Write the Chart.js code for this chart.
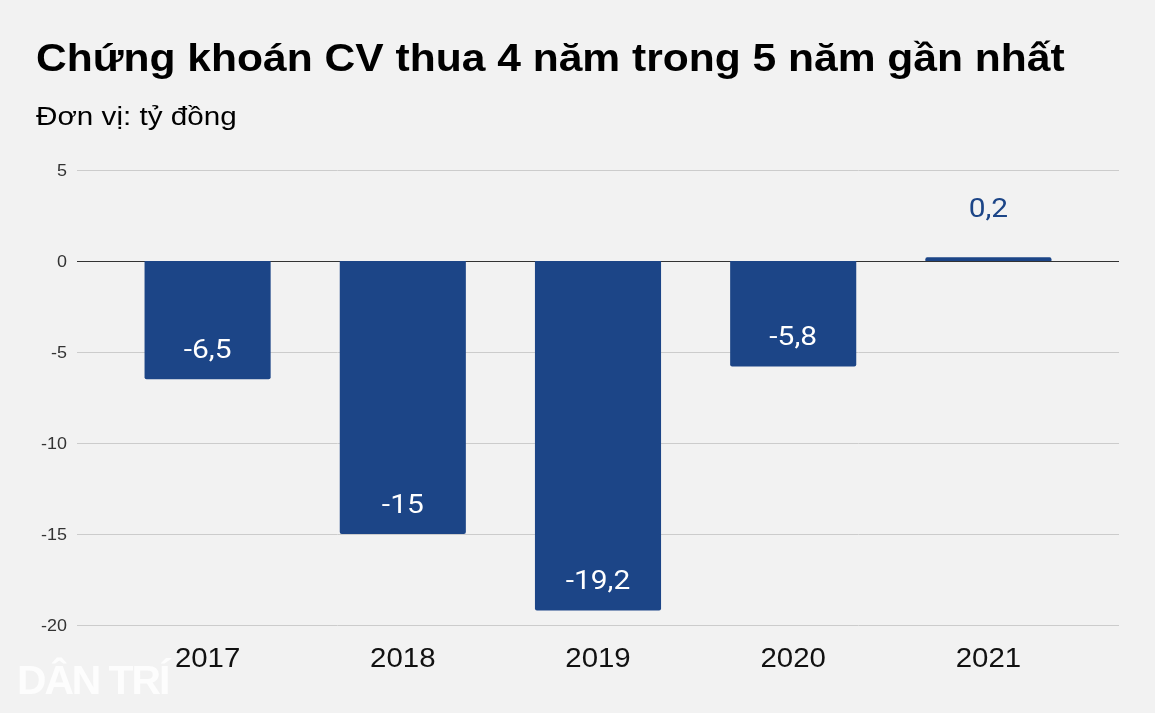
<!DOCTYPE html>
<html>
<head>
<meta charset="utf-8">
<script src="https://cdn.jsdelivr.net/npm/chart.js@4"></script>
<style>
  html, body { margin: 0; padding: 0; background: #f2f2f2; }
  #wrap { position: relative; width: 1155px; height: 713px; overflow: hidden; }
  #title { position: absolute; left: 36px; top: 37px; font: bold 38px "Liberation Sans", Arial, sans-serif; color: #000; white-space: nowrap; transform: scaleX(1.12); transform-origin: left; }
  #sub { position: absolute; left: 36px; top: 101px; font: 26px "Liberation Sans", Arial, sans-serif; color: #000; white-space: nowrap; transform: scaleX(1.14); transform-origin: left; }
  #logo { position: absolute; left: 17px; top: 658px; font: bold 40px "Liberation Sans", Arial, sans-serif; color: #fdfdfd; letter-spacing: -2px; transform: scaleX(1.02); transform-origin: left; }
  canvas { position: absolute; left: 0; top: 0; }
</style>
</head>
<body>
<div id="wrap">
  <canvas id="c" width="1155" height="713"></canvas>
  <div id="title">Chứng khoán CV thua 4 năm trong 5 năm gần nhất</div>
  <div id="sub">Đơn vị: tỷ đồng</div>
  <div id="logo">DÂN TRÍ</div>
</div>
<script>
// dữ liệu
const years = ['2017', '2018', '2019', '2020', '2021'];
const profit = [-6.5, -15, -19.2, -5.8, 0.2];
const yTicks = [5, 0, -5, -10, -15, -20];

const barColor = '#1c4587';

// chữ hơi giãn ngang như ảnh gốc
function wideText(ctx, txt, x, y, sx) {
  ctx.save();
  ctx.translate(x, y);
  ctx.scale(sx, 1);
  ctx.fillText(txt, 0, 0);
  ctx.restore();
}

// lưới ngang + nhãn trục
const axisPlugin = {
  id: 'axisDraw',
  beforeDatasetsDraw(chart) {
    const ctx = chart.ctx;
    const y = chart.scales.y;
    const x = chart.scales.x;
    ctx.save();
    yTicks.forEach(v => {
      const py = Math.round(y.getPixelForValue(v)) + 0.5;
      ctx.beginPath();
      ctx.moveTo(77, py);
      ctx.lineTo(1119, py);
      ctx.lineWidth = v === 0 ? 1.2 : 1;
      ctx.strokeStyle = v === 0 ? '#333333' : '#cccccc';
      ctx.stroke();
      ctx.fillStyle = '#333';
      ctx.font = '16px "Liberation Sans", Arial, sans-serif';
      ctx.textAlign = 'right';
      ctx.textBaseline = 'middle';
      wideText(ctx, String(v), 67, py + 1, 1.12);
    });
    ctx.fillStyle = '#111';
    ctx.font = '28px "Liberation Sans", Arial, sans-serif';
    ctx.textAlign = 'center';
    ctx.textBaseline = 'middle';
    years.forEach((yr, i) => {
      wideText(ctx, yr, x.getPixelForValue(i), 659, 1.05);
    });
    ctx.restore();
  }
};

// nhãn giá trị trên cột
const labelPlugin = {
  id: 'valueLabels',
  afterDatasetsDraw(chart) {
    const ctx = chart.ctx;
    const meta = chart.getDatasetMeta(0);
    ctx.save();
    ctx.font = '26px Roboto, "Liberation Sans", sans-serif';
    ctx.textAlign = 'center';
    ctx.textBaseline = 'middle';
    meta.data.forEach((bar, i) => {
      const v = profit[i];
      const txt = String(v).replace('.', ',');
      if (v < 0) {
        ctx.fillStyle = '#ffffff';
        wideText(ctx, txt, bar.x, bar.y - 28, 1.15);
      } else {
        ctx.fillStyle = barColor;
        wideText(ctx, txt, bar.x, bar.y - 47, 1.15);
      }
    });
    ctx.restore();
  }
};

new Chart(document.getElementById('c'), {
  type: 'bar',
  data: {
    labels: years,
    datasets: [{
      data: profit,
      backgroundColor: barColor,
      borderRadius: 2,
      borderSkipped: 'start',
      barPercentage: 0.646,
      categoryPercentage: 1
    }]
  },
  options: {
    responsive: false,
    animation: false,
    layout: { padding: { top: 170, right: 69, left: 0, bottom: 0 } },
    plugins: { legend: { display: false }, tooltip: { enabled: false } },
    scales: {
      x: {
        grid: { display: false },
        border: { display: false },
        ticks: { display: false },
        afterFit(s) { s.height = 88; }
      },
      y: {
        min: -20,
        max: 5,
        afterBuildTicks(s) { s.ticks = yTicks.map(v => ({ value: v })); },
        grid: { display: false },
        border: { display: false },
        ticks: { display: false },
        afterFit(s) { s.width = 110; }
      }
    }
  },
  plugins: [axisPlugin, labelPlugin]
});
</script>
</body>
</html>
